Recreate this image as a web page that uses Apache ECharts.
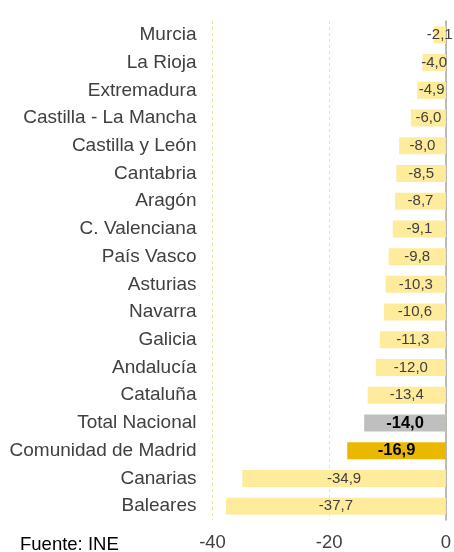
<!DOCTYPE html>
<html>
<head>
<meta charset="utf-8">
<script src="https://cdn.jsdelivr.net/npm/echarts@6/dist/echarts.min.js"></script>
<style>html,body{margin:0;padding:0;background:#fff}#c{width:454px;height:552px}</style>
</head>
<body>
<div id="c"></div>
<script>
var categories = ["Murcia","La Rioja","Extremadura","Castilla - La Mancha","Castilla y León","Cantabria","Aragón","C. Valenciana","País Vasco","Asturias","Navarra","Galicia","Andalucía","Cataluña","Total Nacional","Comunidad de Madrid","Canarias","Baleares"];
var values = [-2.1,-4.0,-4.9,-6.0,-8.0,-8.5,-8.7,-9.1,-9.8,-10.3,-10.6,-11.3,-12.0,-13.4,-14.0,-16.9,-34.9,-37.7];
var xTicks = [-40,-20,0];
var sourceText = "Fuente: INE";

var FONT = "'Liberation Sans', Arial, sans-serif";
var data = values.map(function(v, i){
  var name = categories[i];
  var item = {value: v};
  if (name === "Total Nacional") {
    item.itemStyle = {color: '#BFBFBF'};
    item.label = {fontWeight: 'bold', color: '#000', fontSize: 16.5};
  } else if (name === "Comunidad de Madrid") {
    item.itemStyle = {color: '#EBB800'};
    item.label = {fontWeight: 'bold', color: '#000', fontSize: 16.5};
  }
  return item;
});
var chart = echarts.init(document.getElementById('c'), null, {renderer:'canvas'});
chart.setOption({
  animation: false,
  grid: {left: 212.5, right: 7.5, top: 21, bottom: 31, containLabel: false},
  xAxis: {
    type: 'value', min: xTicks[0], max: xTicks[xTicks.length-1], interval: 20,
    axisLine: {show: false}, axisTick: {show: false},
    axisLabel: {fontFamily: FONT, fontSize: 18.5, color: '#404040', margin: 13,
      formatter: function(v){ return String(v); }},
    splitLine: {show: true, lineStyle: {color: '#FFE08A', type: [3,3], width: 1}}
  },
  yAxis: [{
    type: 'category', data: categories, inverse: true,
    axisLine: {show: false, onZero: false}, axisTick: {show: false},
    axisLabel: {fontFamily: FONT, fontSize: 19, color: '#404040', margin: 16}
  },{
    type: 'category', data: categories, inverse: true, position: 'right',
    axisLine: {show: true, onZero: false, lineStyle: {color: '#A6A6A6', width: 1.5}},
    axisTick: {show: false}, axisLabel: {show: false}
  }],
  series: [{
    type: 'bar', data: data, barWidth: 17, yAxisIndex: 0,
    itemStyle: {color: '#FFEB9C'},
    label: {show: true, position: 'inside', fontFamily: FONT, fontSize: 15, color: '#404040',
      formatter: function(p){ return p.value.toFixed(1).replace('.', ','); }}
  }],
  graphic: [{type: 'text', left: 20, top: 535, style: {text: sourceText, font: '18.5px ' + FONT, fill: '#000'}}]
});
</script>
</body>
</html>
